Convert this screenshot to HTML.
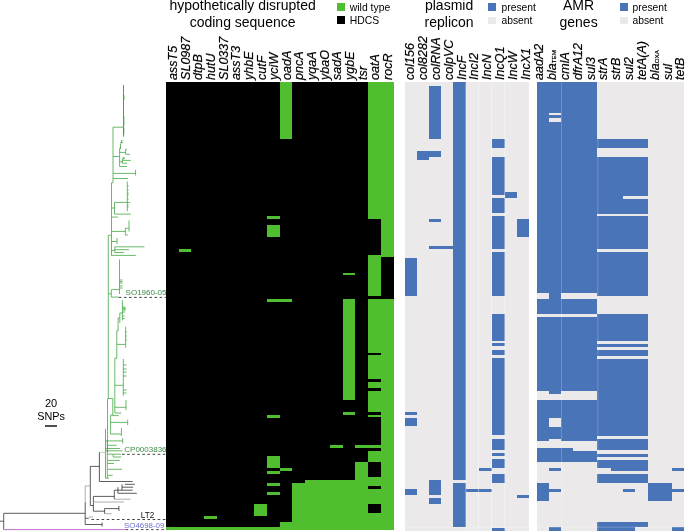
<!DOCTYPE html>
<html><head><meta charset="utf-8"><title>Figure</title>
<style>html,body{margin:0;padding:0;background:#fff;width:685px;height:531px;overflow:hidden}svg{display:block}</style>
</head><body>
<svg width="685" height="531" viewBox="0 0 685 531" font-family="'Liberation Sans', Arial, sans-serif"><line x1="123.5" y1="85" x2="123.5" y2="136.7" stroke="#44A844" stroke-width="1.0"/>
<line x1="123.5" y1="96" x2="124.8" y2="96" stroke="#44A844" stroke-width="0.8"/>
<line x1="123.5" y1="97.5" x2="124.8" y2="97.5" stroke="#44A844" stroke-width="0.8"/>
<line x1="123.5" y1="99" x2="124.8" y2="99" stroke="#44A844" stroke-width="0.8"/>
<line x1="123.5" y1="117" x2="124.8" y2="117" stroke="#44A844" stroke-width="0.8"/>
<line x1="123.5" y1="119" x2="124.8" y2="119" stroke="#44A844" stroke-width="0.8"/>
<line x1="123.5" y1="121" x2="124.8" y2="121" stroke="#44A844" stroke-width="0.8"/>
<line x1="123.5" y1="123" x2="124.8" y2="123" stroke="#44A844" stroke-width="0.8"/>
<line x1="123.5" y1="125" x2="124.8" y2="125" stroke="#44A844" stroke-width="0.8"/>
<line x1="123.5" y1="129" x2="124.8" y2="129" stroke="#44A844" stroke-width="0.8"/>
<line x1="123.5" y1="131" x2="124.8" y2="131" stroke="#44A844" stroke-width="0.8"/>
<line x1="123.5" y1="133" x2="124.8" y2="133" stroke="#44A844" stroke-width="0.8"/>
<line x1="113" y1="127.2" x2="123.5" y2="127.2" stroke="#44A844" stroke-width="0.8"/>
<line x1="113" y1="127.2" x2="113" y2="182.8" stroke="#44A844" stroke-width="0.8"/>
<line x1="113" y1="156.5" x2="119.6" y2="156.5" stroke="#44A844" stroke-width="0.8"/>
<line x1="119.6" y1="148.2" x2="119.6" y2="166.5" stroke="#44A844" stroke-width="0.8"/>
<line x1="120.5" y1="143.5" x2="120.5" y2="149.1" stroke="#44A844" stroke-width="0.8"/>
<line x1="119.6" y1="148.2" x2="120.5" y2="148.2" stroke="#44A844" stroke-width="0.8"/>
<line x1="121.6" y1="140.2" x2="121.6" y2="143.5" stroke="#44A844" stroke-width="0.8"/>
<line x1="120.5" y1="142.5" x2="122.9" y2="142.5" stroke="#44A844" stroke-width="0.8"/>
<line x1="121.6" y1="140.5" x2="122.6" y2="140.5" stroke="#44A844" stroke-width="0.8"/>
<line x1="119.6" y1="152.4" x2="125.7" y2="152.4" stroke="#44A844" stroke-width="0.8"/>
<line x1="125.7" y1="149.1" x2="125.7" y2="154.3" stroke="#44A844" stroke-width="0.8"/>
<line x1="125.7" y1="154.3" x2="130" y2="154.3" stroke="#44A844" stroke-width="0.8"/>
<line x1="125.7" y1="149.3" x2="126.8" y2="149.3" stroke="#44A844" stroke-width="0.8"/>
<line x1="119.6" y1="161.8" x2="122.4" y2="161.8" stroke="#44A844" stroke-width="0.8"/>
<line x1="122.4" y1="159" x2="122.4" y2="163.2" stroke="#44A844" stroke-width="0.8"/>
<line x1="122.4" y1="160.4" x2="130.9" y2="160.4" stroke="#44A844" stroke-width="0.8"/>
<line x1="122.4" y1="163.2" x2="127.1" y2="163.2" stroke="#44A844" stroke-width="0.8"/>
<line x1="122.4" y1="158.2" x2="125" y2="158.2" stroke="#44A844" stroke-width="0.8"/>
<line x1="123.6" y1="157.1" x2="123.6" y2="159.5" stroke="#44A844" stroke-width="0.8"/>
<line x1="119.6" y1="166.5" x2="127.1" y2="166.5" stroke="#44A844" stroke-width="0.8"/>
<line x1="113" y1="173.4" x2="135.6" y2="173.4" stroke="#44A844" stroke-width="0.8"/>
<line x1="135.6" y1="169.8" x2="135.6" y2="175.5" stroke="#44A844" stroke-width="0.8"/>
<line x1="113" y1="178.5" x2="128" y2="178.5" stroke="#44A844" stroke-width="0.8"/>
<line x1="111.5" y1="182.8" x2="111.5" y2="255.4" stroke="#44A844" stroke-width="0.8"/>
<line x1="111.5" y1="182.8" x2="113" y2="182.8" stroke="#44A844" stroke-width="0.8"/>
<line x1="127.3" y1="181.5" x2="127.3" y2="211.2" stroke="#44A844" stroke-width="0.8"/>
<line x1="127.3" y1="186" x2="128.6" y2="186" stroke="#44A844" stroke-width="0.8"/>
<line x1="127.3" y1="190" x2="128.6" y2="190" stroke="#44A844" stroke-width="0.8"/>
<line x1="127.3" y1="193" x2="128.6" y2="193" stroke="#44A844" stroke-width="0.8"/>
<line x1="127.3" y1="195" x2="128.6" y2="195" stroke="#44A844" stroke-width="0.8"/>
<line x1="127.3" y1="199" x2="128.6" y2="199" stroke="#44A844" stroke-width="0.8"/>
<line x1="127.3" y1="205" x2="128.6" y2="205" stroke="#44A844" stroke-width="0.8"/>
<line x1="127.3" y1="207" x2="128.6" y2="207" stroke="#44A844" stroke-width="0.8"/>
<line x1="114.5" y1="202.4" x2="130" y2="202.4" stroke="#44A844" stroke-width="0.8"/>
<line x1="114.5" y1="202.4" x2="114.5" y2="214.1" stroke="#44A844" stroke-width="0.8"/>
<line x1="114.5" y1="214.1" x2="130.9" y2="214.1" stroke="#44A844" stroke-width="0.8"/>
<line x1="111.5" y1="208" x2="114.5" y2="208" stroke="#44A844" stroke-width="0.8"/>
<line x1="111.3" y1="217.1" x2="118" y2="217.1" stroke="#44A844" stroke-width="0.8"/>
<line x1="111.3" y1="231.4" x2="125.3" y2="231.4" stroke="#44A844" stroke-width="0.8"/>
<line x1="125.3" y1="228.3" x2="125.3" y2="235" stroke="#44A844" stroke-width="0.8"/>
<line x1="129" y1="220.4" x2="129" y2="231.6" stroke="#44A844" stroke-width="0.8"/>
<line x1="125.3" y1="228.3" x2="129" y2="228.3" stroke="#44A844" stroke-width="0.8"/>
<line x1="125.3" y1="235" x2="128" y2="235" stroke="#44A844" stroke-width="0.8"/>
<line x1="111.3" y1="241.5" x2="116.8" y2="241.5" stroke="#44A844" stroke-width="0.8"/>
<line x1="117" y1="238" x2="117" y2="244" stroke="#44A844" stroke-width="0.8"/>
<line x1="111.3" y1="250.5" x2="114.8" y2="250.5" stroke="#44A844" stroke-width="0.8"/>
<line x1="114.8" y1="246.8" x2="114.8" y2="252.5" stroke="#44A844" stroke-width="0.8"/>
<line x1="114.8" y1="246.8" x2="144.4" y2="246.8" stroke="#44A844" stroke-width="0.8"/>
<line x1="114.8" y1="249.7" x2="129" y2="249.7" stroke="#44A844" stroke-width="0.8"/>
<line x1="114.8" y1="252.5" x2="124" y2="252.5" stroke="#44A844" stroke-width="0.8"/>
<line x1="111.3" y1="255.4" x2="135.9" y2="255.4" stroke="#44A844" stroke-width="0.8"/>
<line x1="108.3" y1="235.3" x2="108.3" y2="399" stroke="#44A844" stroke-width="0.8"/>
<line x1="108.3" y1="235.3" x2="111.3" y2="235.3" stroke="#44A844" stroke-width="0.8"/>
<line x1="119.5" y1="259.5" x2="119.5" y2="294" stroke="#44A844" stroke-width="0.8"/>
<line x1="111.3" y1="289.6" x2="119.5" y2="289.6" stroke="#44A844" stroke-width="0.8"/>
<line x1="119.5" y1="280" x2="122.5" y2="280" stroke="#44A844" stroke-width="0.8"/>
<line x1="119.5" y1="281.5" x2="122.5" y2="281.5" stroke="#44A844" stroke-width="0.8"/>
<line x1="119.5" y1="283" x2="122.5" y2="283" stroke="#44A844" stroke-width="0.8"/>
<line x1="119.5" y1="286" x2="122.5" y2="286" stroke="#44A844" stroke-width="0.8"/>
<line x1="119.5" y1="288" x2="122.5" y2="288" stroke="#44A844" stroke-width="0.8"/>
<line x1="111.3" y1="289.6" x2="111.3" y2="297.1" stroke="#44A844" stroke-width="0.8"/>
<line x1="108.3" y1="293.8" x2="111.3" y2="293.8" stroke="#44A844" stroke-width="0.8"/>
<line x1="111.3" y1="297.1" x2="118.8" y2="297.1" stroke="#44A844" stroke-width="0.8"/>
<line x1="122.4" y1="300.2" x2="122.4" y2="320.4" stroke="#44A844" stroke-width="0.8"/>
<line x1="122.4" y1="307" x2="125" y2="307" stroke="#44A844" stroke-width="0.8"/>
<line x1="122.4" y1="308.5" x2="125" y2="308.5" stroke="#44A844" stroke-width="0.8"/>
<line x1="122.4" y1="310" x2="125" y2="310" stroke="#44A844" stroke-width="0.8"/>
<line x1="122.4" y1="312" x2="125" y2="312" stroke="#44A844" stroke-width="0.8"/>
<line x1="125" y1="307" x2="125" y2="311" stroke="#44A844" stroke-width="0.8"/>
<line x1="119.8" y1="313" x2="119.8" y2="323" stroke="#44A844" stroke-width="0.8"/>
<line x1="119.8" y1="313" x2="122.4" y2="313" stroke="#44A844" stroke-width="0.8"/>
<line x1="122.4" y1="316" x2="124.5" y2="316" stroke="#44A844" stroke-width="0.8"/>
<line x1="122.4" y1="318.5" x2="124.5" y2="318.5" stroke="#44A844" stroke-width="0.8"/>
<line x1="118.1" y1="318" x2="118.1" y2="331" stroke="#44A844" stroke-width="0.8"/>
<line x1="118.1" y1="318" x2="119.8" y2="318" stroke="#44A844" stroke-width="0.8"/>
<line x1="116.8" y1="330.8" x2="116.8" y2="358.2" stroke="#44A844" stroke-width="0.8"/>
<line x1="116.8" y1="330.8" x2="118.1" y2="330.8" stroke="#44A844" stroke-width="0.8"/>
<line x1="117" y1="344.4" x2="125.6" y2="344.4" stroke="#44A844" stroke-width="0.8"/>
<line x1="125.6" y1="326.6" x2="125.6" y2="347.7" stroke="#44A844" stroke-width="0.8"/>
<line x1="125.6" y1="332" x2="127" y2="332" stroke="#44A844" stroke-width="0.8"/>
<line x1="125.6" y1="336" x2="127" y2="336" stroke="#44A844" stroke-width="0.8"/>
<line x1="125.6" y1="340" x2="127" y2="340" stroke="#44A844" stroke-width="0.8"/>
<line x1="114.8" y1="358.2" x2="114.8" y2="413" stroke="#44A844" stroke-width="0.8"/>
<line x1="114.8" y1="358.2" x2="117" y2="358.2" stroke="#44A844" stroke-width="0.8"/>
<line x1="114.8" y1="385.3" x2="123.3" y2="385.3" stroke="#44A844" stroke-width="0.8"/>
<line x1="123.3" y1="358.9" x2="123.3" y2="395.8" stroke="#44A844" stroke-width="0.8"/>
<line x1="123.3" y1="365" x2="126.6" y2="365" stroke="#44A844" stroke-width="0.8"/>
<line x1="123.3" y1="369" x2="126.6" y2="369" stroke="#44A844" stroke-width="0.8"/>
<line x1="123.3" y1="372" x2="126.6" y2="372" stroke="#44A844" stroke-width="0.8"/>
<line x1="123.3" y1="376" x2="126.6" y2="376" stroke="#44A844" stroke-width="0.8"/>
<line x1="123.3" y1="390" x2="126.6" y2="390" stroke="#44A844" stroke-width="0.8"/>
<line x1="123.3" y1="393" x2="126.6" y2="393" stroke="#44A844" stroke-width="0.8"/>
<line x1="112.8" y1="398.5" x2="112.8" y2="415.6" stroke="#44A844" stroke-width="0.8"/>
<line x1="108.3" y1="398.5" x2="112.8" y2="398.5" stroke="#44A844" stroke-width="0.8"/>
<line x1="114.8" y1="407.3" x2="126" y2="407.3" stroke="#44A844" stroke-width="0.8"/>
<line x1="126" y1="400" x2="126" y2="410" stroke="#44A844" stroke-width="0.8"/>
<line x1="114.8" y1="413" x2="121.4" y2="413" stroke="#44A844" stroke-width="0.8"/>
<line x1="112.8" y1="415.6" x2="118.7" y2="415.6" stroke="#44A844" stroke-width="0.8"/>
<line x1="110.6" y1="415" x2="110.6" y2="434" stroke="#44A844" stroke-width="0.8"/>
<line x1="110.6" y1="415" x2="112.8" y2="415" stroke="#44A844" stroke-width="0.8"/>
<line x1="110.6" y1="422.4" x2="127.7" y2="422.4" stroke="#44A844" stroke-width="0.8"/>
<line x1="127.7" y1="419.5" x2="127.7" y2="425" stroke="#44A844" stroke-width="0.8"/>
<line x1="110.6" y1="434" x2="121.4" y2="434" stroke="#44A844" stroke-width="0.8"/>
<line x1="121.4" y1="428" x2="121.4" y2="436" stroke="#44A844" stroke-width="0.8"/>
<line x1="107.5" y1="399" x2="107.5" y2="452.3" stroke="#44A844" stroke-width="0.8"/>
<line x1="107.5" y1="399" x2="108.3" y2="399" stroke="#44A844" stroke-width="0.8"/>
<line x1="105.5" y1="428.8" x2="105.5" y2="478.2" stroke="#44A844" stroke-width="0.8"/>
<line x1="105.5" y1="440.9" x2="122.7" y2="440.9" stroke="#44A844" stroke-width="0.8"/>
<line x1="122.7" y1="438" x2="122.7" y2="443.5" stroke="#44A844" stroke-width="0.8"/>
<line x1="107" y1="445.3" x2="116.8" y2="445.3" stroke="#44A844" stroke-width="0.8"/>
<line x1="105.5" y1="448.5" x2="120" y2="448.5" stroke="#44A844" stroke-width="0.8"/>
<line x1="105.5" y1="450.8" x2="122.5" y2="450.8" stroke="#44A844" stroke-width="0.8"/>
<line x1="107.3" y1="454.2" x2="113.2" y2="454.2" stroke="#44A844" stroke-width="0.8"/>
<line x1="113.2" y1="454.2" x2="113.2" y2="457" stroke="#44A844" stroke-width="0.8"/>
<line x1="113.2" y1="454.2" x2="121.1" y2="454.2" stroke="#44A844" stroke-width="0.8"/>
<line x1="113.2" y1="457" x2="121.1" y2="457" stroke="#44A844" stroke-width="0.8"/>
<line x1="107.3" y1="460.4" x2="119.8" y2="460.4" stroke="#44A844" stroke-width="0.8"/>
<line x1="107.3" y1="463.5" x2="113.9" y2="463.5" stroke="#44A844" stroke-width="0.8"/>
<line x1="107.3" y1="469.3" x2="122" y2="469.3" stroke="#44A844" stroke-width="0.8"/>
<line x1="107.3" y1="475.3" x2="112.6" y2="475.3" stroke="#44A844" stroke-width="0.8"/>
<line x1="105.5" y1="478.2" x2="109" y2="478.2" stroke="#44A844" stroke-width="0.8"/>
<line x1="107.3" y1="440" x2="107.3" y2="478" stroke="#44A844" stroke-width="0.8"/>
<line x1="99.4" y1="452.3" x2="105.5" y2="452.3" stroke="#9ED09E" stroke-width="0.8"/>
<line x1="99.4" y1="452.3" x2="99.4" y2="481.5" stroke="#333333" stroke-width="0.8"/>
<line x1="99.4" y1="481.5" x2="132.6" y2="481.5" stroke="#333333" stroke-width="0.8"/>
<line x1="90.3" y1="466.4" x2="99.4" y2="466.4" stroke="#333333" stroke-width="0.8"/>
<line x1="90.3" y1="466.4" x2="90.3" y2="505.5" stroke="#333333" stroke-width="0.8"/>
<line x1="85.2" y1="485.9" x2="90.3" y2="485.9" stroke="#999999" stroke-width="0.8"/>
<line x1="85.2" y1="485.9" x2="85.2" y2="502" stroke="#999999" stroke-width="0.8"/>
<line x1="85.2" y1="502" x2="85.2" y2="524.5" stroke="#333333" stroke-width="0.8"/>
<line x1="90.3" y1="505.5" x2="93.4" y2="505.5" stroke="#333333" stroke-width="0.8"/>
<line x1="93.4" y1="496.4" x2="93.4" y2="511.2" stroke="#333333" stroke-width="0.8"/>
<line x1="93.4" y1="496.4" x2="114.3" y2="496.4" stroke="#333333" stroke-width="0.8"/>
<line x1="114.3" y1="490.2" x2="114.3" y2="499.2" stroke="#333333" stroke-width="0.8"/>
<line x1="114.3" y1="490.2" x2="117.9" y2="490.2" stroke="#333333" stroke-width="0.8"/>
<line x1="117.9" y1="487.2" x2="117.9" y2="493.3" stroke="#333333" stroke-width="0.8"/>
<line x1="125" y1="484.3" x2="134.8" y2="484.3" stroke="#333333" stroke-width="0.8"/>
<line x1="122" y1="487.2" x2="133.2" y2="487.2" stroke="#333333" stroke-width="0.8"/>
<line x1="122" y1="484.3" x2="122" y2="490.2" stroke="#333333" stroke-width="0.8"/>
<line x1="117.9" y1="490.2" x2="132.7" y2="490.2" stroke="#333333" stroke-width="0.8"/>
<line x1="117.9" y1="493.3" x2="136.8" y2="493.3" stroke="#333333" stroke-width="0.8"/>
<line x1="114.3" y1="499.2" x2="130.7" y2="499.2" stroke="#999999" stroke-width="0.8"/>
<line x1="93.4" y1="502" x2="124" y2="502" stroke="#999999" stroke-width="0.8"/>
<line x1="93.4" y1="511.2" x2="104.6" y2="511.2" stroke="#333333" stroke-width="0.8"/>
<line x1="104.6" y1="508.6" x2="104.6" y2="513.7" stroke="#333333" stroke-width="0.8"/>
<line x1="104.6" y1="508.6" x2="118.9" y2="508.6" stroke="#333333" stroke-width="0.8"/>
<line x1="118.9" y1="506" x2="118.9" y2="511" stroke="#333333" stroke-width="0.8"/>
<line x1="104.6" y1="513.7" x2="111.8" y2="513.7" stroke="#999999" stroke-width="0.8"/>
<line x1="85.2" y1="518.3" x2="88.8" y2="518.3" stroke="#333333" stroke-width="0.8"/>
<line x1="88.8" y1="517" x2="92.9" y2="517" stroke="#999999" stroke-width="0.8"/>
<line x1="85.2" y1="524.5" x2="102.1" y2="524.5" stroke="#333333" stroke-width="0.8"/>
<line x1="102.1" y1="522.5" x2="102.1" y2="526.5" stroke="#333333" stroke-width="0.8"/>
<line x1="3.7" y1="513.3" x2="85.2" y2="513.3" stroke="#333333" stroke-width="0.8"/>
<line x1="3.7" y1="513.3" x2="3.7" y2="529.6" stroke="#333333" stroke-width="0.8"/>
<line x1="0" y1="521.2" x2="3.7" y2="521.2" stroke="#333333" stroke-width="0.8"/>
<line x1="3.7" y1="529.6" x2="125.6" y2="529.6" stroke="#C070D0" stroke-width="1.0"/>
<line x1="118.8" y1="297.4" x2="166" y2="297.4" stroke="#444" stroke-width="1" stroke-dasharray="2.6,2.5"/>
<line x1="122" y1="454.3" x2="166" y2="454.3" stroke="#444" stroke-width="1" stroke-dasharray="2.6,2.5"/>
<line x1="91.4" y1="519.5" x2="166" y2="519.5" stroke="#444" stroke-width="1" stroke-dasharray="2.6,2.5"/>
<line x1="125.6" y1="529.6" x2="166" y2="529.6" stroke="#444" stroke-width="1" stroke-dasharray="2.6,2.5"/>
<text x="125.6" y="294.9" font-size="8" fill="#3D8B45" text-anchor="start" >SO1960-05</text>
<text x="124.3" y="451.9" font-size="8" fill="#3D8B45" text-anchor="start" >CP0003836</text>
<text x="140.8" y="517.5" font-size="8.2" fill="#111" text-anchor="start" >LT2</text>
<text x="124" y="527.7" font-size="7.9" fill="#6E6ECC" text-anchor="start" >SO4698-09</text>
<rect x="166.00" y="82.30" width="227.70" height="447.50" fill="#000000" shape-rendering="crispEdges"/>
<rect x="279.62" y="82.30" width="12.62" height="56.50" fill="#4FBF2F" shape-rendering="crispEdges"/>
<rect x="368.00" y="82.30" width="25.70" height="136.60" fill="#4FBF2F" shape-rendering="crispEdges"/>
<rect x="380.62" y="218.90" width="13.07" height="38.50" fill="#4FBF2F" shape-rendering="crispEdges"/>
<rect x="368.00" y="254.90" width="12.62" height="40.90" fill="#4FBF2F" shape-rendering="crispEdges"/>
<rect x="368.00" y="299.20" width="25.70" height="230.60" fill="#4FBF2F" shape-rendering="crispEdges"/>
<rect x="267.00" y="216.20" width="12.62" height="2.70" fill="#4FBF2F" shape-rendering="crispEdges"/>
<rect x="267.00" y="225.00" width="12.62" height="11.80" fill="#4FBF2F" shape-rendering="crispEdges"/>
<rect x="267.00" y="299.20" width="25.25" height="2.90" fill="#4FBF2F" shape-rendering="crispEdges"/>
<rect x="267.00" y="414.80" width="12.62" height="2.80" fill="#4FBF2F" shape-rendering="crispEdges"/>
<rect x="267.00" y="456.20" width="12.62" height="11.90" fill="#4FBF2F" shape-rendering="crispEdges"/>
<rect x="267.00" y="471.00" width="12.62" height="3.00" fill="#4FBF2F" shape-rendering="crispEdges"/>
<rect x="267.00" y="482.90" width="12.62" height="3.00" fill="#4FBF2F" shape-rendering="crispEdges"/>
<rect x="267.00" y="492.00" width="12.62" height="2.70" fill="#4FBF2F" shape-rendering="crispEdges"/>
<rect x="178.62" y="248.80" width="12.62" height="2.90" fill="#4FBF2F" shape-rendering="crispEdges"/>
<rect x="342.75" y="272.50" width="12.62" height="2.90" fill="#4FBF2F" shape-rendering="crispEdges"/>
<rect x="342.75" y="299.20" width="12.62" height="100.30" fill="#4FBF2F" shape-rendering="crispEdges"/>
<rect x="342.75" y="411.90" width="12.62" height="2.90" fill="#4FBF2F" shape-rendering="crispEdges"/>
<rect x="279.62" y="468.00" width="12.62" height="3.00" fill="#4FBF2F" shape-rendering="crispEdges"/>
<rect x="330.12" y="444.60" width="12.62" height="3.00" fill="#4FBF2F" shape-rendering="crispEdges"/>
<rect x="355.38" y="444.60" width="12.62" height="3.00" fill="#4FBF2F" shape-rendering="crispEdges"/>
<rect x="355.38" y="462.00" width="12.62" height="67.80" fill="#4FBF2F" shape-rendering="crispEdges"/>
<rect x="304.88" y="479.50" width="50.50" height="50.30" fill="#4FBF2F" shape-rendering="crispEdges"/>
<rect x="292.25" y="483.00" width="12.62" height="46.80" fill="#4FBF2F" shape-rendering="crispEdges"/>
<rect x="279.62" y="521.60" width="12.62" height="8.20" fill="#4FBF2F" shape-rendering="crispEdges"/>
<rect x="254.38" y="503.80" width="12.62" height="12.10" fill="#4FBF2F" shape-rendering="crispEdges"/>
<rect x="203.88" y="515.90" width="12.62" height="2.80" fill="#4FBF2F" shape-rendering="crispEdges"/>
<rect x="166.00" y="527.30" width="227.70" height="2.50" fill="#4FBF2F" shape-rendering="crispEdges"/>
<rect x="368.00" y="352.70" width="12.62" height="2.70" fill="#000000" shape-rendering="crispEdges"/>
<rect x="368.00" y="379.00" width="12.62" height="2.80" fill="#000000" shape-rendering="crispEdges"/>
<rect x="368.00" y="388.20" width="12.62" height="2.70" fill="#000000" shape-rendering="crispEdges"/>
<rect x="368.00" y="411.90" width="12.62" height="2.80" fill="#000000" shape-rendering="crispEdges"/>
<rect x="368.00" y="417.40" width="12.62" height="27.20" fill="#000000" shape-rendering="crispEdges"/>
<rect x="368.00" y="447.60" width="12.62" height="2.90" fill="#000000" shape-rendering="crispEdges"/>
<rect x="368.00" y="462.40" width="12.62" height="14.60" fill="#000000" shape-rendering="crispEdges"/>
<rect x="368.00" y="486.10" width="12.62" height="2.80" fill="#000000" shape-rendering="crispEdges"/>
<rect x="368.00" y="504.10" width="12.62" height="8.80" fill="#000000" shape-rendering="crispEdges"/>
<rect x="405.10" y="82.30" width="124.30" height="448.30" fill="#EBE9EA" shape-rendering="crispEdges"/>
<rect x="416.90" y="150.90" width="12.00" height="8.70" fill="#4A74B8" shape-rendering="crispEdges"/>
<rect x="428.90" y="85.80" width="12.10" height="53.00" fill="#4A74B8" shape-rendering="crispEdges"/>
<rect x="428.90" y="150.90" width="12.10" height="5.90" fill="#4A74B8" shape-rendering="crispEdges"/>
<rect x="428.90" y="219.00" width="12.10" height="2.60" fill="#4A74B8" shape-rendering="crispEdges"/>
<rect x="428.90" y="479.80" width="12.10" height="14.80" fill="#4A74B8" shape-rendering="crispEdges"/>
<rect x="428.90" y="497.70" width="12.10" height="6.00" fill="#4A74B8" shape-rendering="crispEdges"/>
<rect x="428.90" y="245.80" width="24.00" height="2.80" fill="#4A74B8" shape-rendering="crispEdges"/>
<rect x="405.10" y="257.60" width="11.80" height="38.20" fill="#4A74B8" shape-rendering="crispEdges"/>
<rect x="405.10" y="411.70" width="11.80" height="3.00" fill="#4A74B8" shape-rendering="crispEdges"/>
<rect x="405.10" y="417.60" width="11.80" height="8.70" fill="#4A74B8" shape-rendering="crispEdges"/>
<rect x="405.10" y="488.80" width="11.80" height="5.80" fill="#4A74B8" shape-rendering="crispEdges"/>
<rect x="452.90" y="82.30" width="12.70" height="397.50" fill="#4A74B8" shape-rendering="crispEdges"/>
<rect x="452.90" y="482.90" width="12.70" height="44.40" fill="#4A74B8" shape-rendering="crispEdges"/>
<rect x="465.60" y="488.80" width="13.00" height="2.80" fill="#4A74B8" shape-rendering="crispEdges"/>
<rect x="478.60" y="468.00" width="12.90" height="2.80" fill="#4A74B8" shape-rendering="crispEdges"/>
<rect x="478.60" y="488.80" width="12.90" height="2.80" fill="#4A74B8" shape-rendering="crispEdges"/>
<rect x="491.50" y="139.00" width="13.20" height="8.60" fill="#4A74B8" shape-rendering="crispEdges"/>
<rect x="491.50" y="156.70" width="13.20" height="38.10" fill="#4A74B8" shape-rendering="crispEdges"/>
<rect x="491.50" y="198.10" width="13.20" height="14.60" fill="#4A74B8" shape-rendering="crispEdges"/>
<rect x="491.50" y="216.10" width="13.20" height="32.50" fill="#4A74B8" shape-rendering="crispEdges"/>
<rect x="491.50" y="251.70" width="13.20" height="44.10" fill="#4A74B8" shape-rendering="crispEdges"/>
<rect x="491.50" y="313.90" width="13.20" height="26.60" fill="#4A74B8" shape-rendering="crispEdges"/>
<rect x="491.50" y="343.20" width="13.20" height="3.00" fill="#4A74B8" shape-rendering="crispEdges"/>
<rect x="491.50" y="349.60" width="13.20" height="5.40" fill="#4A74B8" shape-rendering="crispEdges"/>
<rect x="491.50" y="358.20" width="13.20" height="77.20" fill="#4A74B8" shape-rendering="crispEdges"/>
<rect x="491.50" y="438.50" width="13.20" height="11.60" fill="#4A74B8" shape-rendering="crispEdges"/>
<rect x="491.50" y="452.90" width="13.20" height="2.90" fill="#4A74B8" shape-rendering="crispEdges"/>
<rect x="491.50" y="459.00" width="13.20" height="9.00" fill="#4A74B8" shape-rendering="crispEdges"/>
<rect x="491.50" y="474.10" width="13.20" height="8.80" fill="#4A74B8" shape-rendering="crispEdges"/>
<rect x="491.50" y="527.60" width="13.20" height="3.00" fill="#4A74B8" shape-rendering="crispEdges"/>
<rect x="504.70" y="192.00" width="12.40" height="5.90" fill="#4A74B8" shape-rendering="crispEdges"/>
<rect x="517.10" y="219.00" width="12.30" height="17.50" fill="#4A74B8" shape-rendering="crispEdges"/>
<rect x="517.10" y="494.80" width="12.30" height="2.80" fill="#4A74B8" shape-rendering="crispEdges"/>
<rect x="537.20" y="82.30" width="146.70" height="448.30" fill="#EBE9EA" shape-rendering="crispEdges"/>
<rect x="537.20" y="82.30" width="12.00" height="211.00" fill="#4A74B8" shape-rendering="crispEdges"/>
<rect x="537.20" y="299.10" width="12.00" height="14.90" fill="#4A74B8" shape-rendering="crispEdges"/>
<rect x="537.20" y="317.00" width="12.00" height="73.90" fill="#4A74B8" shape-rendering="crispEdges"/>
<rect x="537.20" y="400.20" width="12.00" height="41.20" fill="#4A74B8" shape-rendering="crispEdges"/>
<rect x="561.40" y="82.30" width="36.00" height="211.00" fill="#4A74B8" shape-rendering="crispEdges"/>
<rect x="561.40" y="299.10" width="36.00" height="14.90" fill="#4A74B8" shape-rendering="crispEdges"/>
<rect x="561.40" y="317.00" width="36.00" height="73.90" fill="#4A74B8" shape-rendering="crispEdges"/>
<rect x="561.40" y="400.20" width="36.00" height="41.20" fill="#4A74B8" shape-rendering="crispEdges"/>
<rect x="537.20" y="447.90" width="36.20" height="14.40" fill="#4A74B8" shape-rendering="crispEdges"/>
<rect x="573.40" y="450.60" width="24.00" height="11.70" fill="#4A74B8" shape-rendering="crispEdges"/>
<rect x="549.20" y="82.30" width="12.20" height="30.30" fill="#4A74B8" shape-rendering="crispEdges"/>
<rect x="549.20" y="115.30" width="12.20" height="2.90" fill="#4A74B8" shape-rendering="crispEdges"/>
<rect x="549.20" y="121.60" width="12.20" height="192.40" fill="#4A74B8" shape-rendering="crispEdges"/>
<rect x="549.20" y="317.00" width="12.20" height="76.80" fill="#4A74B8" shape-rendering="crispEdges"/>
<rect x="549.20" y="400.20" width="12.20" height="17.90" fill="#4A74B8" shape-rendering="crispEdges"/>
<rect x="549.20" y="427.00" width="12.20" height="11.60" fill="#4A74B8" shape-rendering="crispEdges"/>
<rect x="549.20" y="468.30" width="12.20" height="2.90" fill="#4A74B8" shape-rendering="crispEdges"/>
<rect x="549.20" y="488.80" width="12.20" height="3.00" fill="#4A74B8" shape-rendering="crispEdges"/>
<rect x="549.20" y="527.30" width="12.20" height="3.30" fill="#4A74B8" shape-rendering="crispEdges"/>
<rect x="537.20" y="483.00" width="12.00" height="17.90" fill="#4A74B8" shape-rendering="crispEdges"/>
<rect x="597.40" y="139.00" width="50.10" height="8.70" fill="#4A74B8" shape-rendering="crispEdges"/>
<rect x="597.40" y="156.80" width="25.50" height="56.70" fill="#4A74B8" shape-rendering="crispEdges"/>
<rect x="622.90" y="156.80" width="24.60" height="38.80" fill="#4A74B8" shape-rendering="crispEdges"/>
<rect x="622.90" y="198.50" width="24.60" height="15.00" fill="#4A74B8" shape-rendering="crispEdges"/>
<rect x="597.40" y="216.20" width="50.10" height="33.00" fill="#4A74B8" shape-rendering="crispEdges"/>
<rect x="597.40" y="252.10" width="50.10" height="44.10" fill="#4A74B8" shape-rendering="crispEdges"/>
<rect x="597.40" y="314.00" width="50.10" height="26.80" fill="#4A74B8" shape-rendering="crispEdges"/>
<rect x="597.40" y="343.70" width="50.10" height="3.20" fill="#4A74B8" shape-rendering="crispEdges"/>
<rect x="597.40" y="349.80" width="50.10" height="5.80" fill="#4A74B8" shape-rendering="crispEdges"/>
<rect x="597.40" y="358.70" width="50.10" height="77.10" fill="#4A74B8" shape-rendering="crispEdges"/>
<rect x="597.40" y="438.70" width="50.10" height="11.60" fill="#4A74B8" shape-rendering="crispEdges"/>
<rect x="597.40" y="453.70" width="50.10" height="2.90" fill="#4A74B8" shape-rendering="crispEdges"/>
<rect x="597.40" y="459.70" width="50.10" height="8.50" fill="#4A74B8" shape-rendering="crispEdges"/>
<rect x="610.60" y="468.20" width="36.90" height="3.00" fill="#4A74B8" shape-rendering="crispEdges"/>
<rect x="597.40" y="474.10" width="50.10" height="8.80" fill="#4A74B8" shape-rendering="crispEdges"/>
<rect x="597.40" y="521.90" width="50.10" height="5.10" fill="#4A74B8" shape-rendering="crispEdges"/>
<rect x="597.40" y="527.30" width="37.50" height="3.30" fill="#4A74B8" shape-rendering="crispEdges"/>
<rect x="622.90" y="488.80" width="12.00" height="3.00" fill="#4A74B8" shape-rendering="crispEdges"/>
<rect x="647.50" y="483.00" width="24.50" height="17.90" fill="#4A74B8" shape-rendering="crispEdges"/>
<rect x="672.00" y="468.30" width="11.90" height="2.90" fill="#4A74B8" shape-rendering="crispEdges"/>
<rect x="672.00" y="488.80" width="11.90" height="3.00" fill="#4A74B8" shape-rendering="crispEdges"/>
<rect x="672.00" y="527.30" width="11.90" height="3.30" fill="#4A74B8" shape-rendering="crispEdges"/>
<line x1="465.8" y1="82.3" x2="465.8" y2="530.6" stroke="#fff" stroke-opacity="0.6" stroke-width="0.7"/>
<line x1="478.5" y1="82.3" x2="478.5" y2="530.6" stroke="#fff" stroke-opacity="0.6" stroke-width="0.7"/>
<line x1="491.5" y1="82.3" x2="491.5" y2="530.6" stroke="#fff" stroke-opacity="0.6" stroke-width="0.7"/>
<line x1="504.6" y1="82.3" x2="504.6" y2="530.6" stroke="#fff" stroke-opacity="0.6" stroke-width="0.7"/>
<line x1="561.5" y1="82.3" x2="561.5" y2="530.6" stroke="#fff" stroke-opacity="0.35" stroke-width="0.6"/>
<line x1="597.9" y1="82.3" x2="597.9" y2="530.6" stroke="#fff" stroke-opacity="0.35" stroke-width="0.6"/>
<line x1="405.1" y1="527.4" x2="529.4" y2="527.4" stroke="#fff" stroke-opacity="0.4" stroke-width="0.6"/>
<line x1="537.2" y1="527.2" x2="683.9" y2="527.2" stroke="#fff" stroke-opacity="0.4" stroke-width="0.6"/>
<rect x="337.00" y="2.90" width="8.00" height="8.00" fill="#4FBF2F" shape-rendering="crispEdges"/>
<rect x="337.00" y="15.80" width="8.00" height="8.00" fill="#000000" shape-rendering="crispEdges"/>
<rect x="488.10" y="3.20" width="8.00" height="7.80" fill="#4A74B8" shape-rendering="crispEdges"/>
<rect x="488.10" y="16.50" width="8.00" height="7.40" fill="#EBE9EA" shape-rendering="crispEdges"/>
<rect x="619.80" y="3.20" width="7.80" height="7.80" fill="#4A74B8" shape-rendering="crispEdges"/>
<rect x="619.80" y="16.50" width="7.80" height="7.40" fill="#EBE9EA" shape-rendering="crispEdges"/>
<text x="242.6" y="10.2" font-size="14" fill="#000" text-anchor="middle" >hypothetically disrupted</text>
<text x="242.6" y="27.3" font-size="14" fill="#000" text-anchor="middle" >coding sequence</text>
<text x="449.1" y="10.4" font-size="14" fill="#000" text-anchor="middle" >plasmid</text>
<text x="449.1" y="27.3" font-size="14" fill="#000" text-anchor="middle" >replicon</text>
<text x="578.6" y="10.2" font-size="14" fill="#000" text-anchor="middle" >AMR</text>
<text x="578.6" y="27.3" font-size="14" fill="#000" text-anchor="middle" >genes</text>
<text x="349.8" y="10.8" font-size="10.4" fill="#000" text-anchor="start" >wild type</text>
<text x="349.8" y="23.9" font-size="10.4" fill="#000" text-anchor="start" >HDCS</text>
<text x="501.5" y="10.8" font-size="10.3" fill="#000" text-anchor="start" >present</text>
<text x="501.5" y="23.7" font-size="10.3" fill="#000" text-anchor="start" >absent</text>
<text x="632.5" y="10.8" font-size="10.3" fill="#000" text-anchor="start" >present</text>
<text x="632.5" y="23.7" font-size="10.3" fill="#000" text-anchor="start" >absent</text>
<text x="51" y="406.9" font-size="11" fill="#000" text-anchor="middle" >20</text>
<text x="51" y="419.9" font-size="10.8" fill="#000" text-anchor="middle" >SNPs</text>
<line x1="45" y1="426" x2="57" y2="426" stroke="#222" stroke-width="1.6"/>
<text transform="translate(177.10,79.9) rotate(-90)" font-size="12.5" font-style="italic" stroke="#000" stroke-width="0.2">assT5</text>
<text transform="translate(189.73,79.9) rotate(-90)" font-size="12.5" font-style="italic" stroke="#000" stroke-width="0.2">SL0987</text>
<text transform="translate(202.36,79.9) rotate(-90)" font-size="12.5" font-style="italic" stroke="#000" stroke-width="0.2">dtpB</text>
<text transform="translate(214.99,79.9) rotate(-90)" font-size="12.5" font-style="italic" stroke="#000" stroke-width="0.2">hutU</text>
<text transform="translate(227.62,79.9) rotate(-90)" font-size="12.5" font-style="italic" stroke="#000" stroke-width="0.2">SL0337</text>
<text transform="translate(240.25,79.9) rotate(-90)" font-size="12.5" font-style="italic" stroke="#000" stroke-width="0.2">assT3</text>
<text transform="translate(252.88,79.9) rotate(-90)" font-size="12.5" font-style="italic" stroke="#000" stroke-width="0.2">yhbE</text>
<text transform="translate(265.51,79.9) rotate(-90)" font-size="12.5" font-style="italic" stroke="#000" stroke-width="0.2">cutF</text>
<text transform="translate(278.14,79.9) rotate(-90)" font-size="12.5" font-style="italic" stroke="#000" stroke-width="0.2">yciW</text>
<text transform="translate(290.77,79.9) rotate(-90)" font-size="12.5" font-style="italic" stroke="#000" stroke-width="0.2">oadA</text>
<text transform="translate(303.40,79.9) rotate(-90)" font-size="12.5" font-style="italic" stroke="#000" stroke-width="0.2">pncA</text>
<text transform="translate(316.03,79.9) rotate(-90)" font-size="12.5" font-style="italic" stroke="#000" stroke-width="0.2">yqaA</text>
<text transform="translate(328.66,79.9) rotate(-90)" font-size="12.5" font-style="italic" stroke="#000" stroke-width="0.2">ybaO</text>
<text transform="translate(341.29,79.9) rotate(-90)" font-size="12.5" font-style="italic" stroke="#000" stroke-width="0.2">sadA</text>
<text transform="translate(353.92,79.9) rotate(-90)" font-size="12.5" font-style="italic" stroke="#000" stroke-width="0.2">ygbE</text>
<text transform="translate(366.55,79.9) rotate(-90)" font-size="12.5" font-style="italic" stroke="#000" stroke-width="0.2">tsr</text>
<text transform="translate(379.18,79.9) rotate(-90)" font-size="12.5" font-style="italic" stroke="#000" stroke-width="0.2">oatA</text>
<text transform="translate(391.81,79.9) rotate(-90)" font-size="12.5" font-style="italic" stroke="#000" stroke-width="0.2">rocR</text>
<text transform="translate(413.70,79.9) rotate(-90)" font-size="12.5" font-style="italic" stroke="#000" stroke-width="0.2">col156</text>
<text transform="translate(426.65,79.9) rotate(-90)" font-size="12.5" font-style="italic" stroke="#000" stroke-width="0.2">col8282</text>
<text transform="translate(439.60,79.9) rotate(-90)" font-size="12.5" font-style="italic" stroke="#000" stroke-width="0.2">colRNA</text>
<text transform="translate(452.55,79.9) rotate(-90)" font-size="12.5" font-style="italic" stroke="#000" stroke-width="0.2">colpVC</text>
<text transform="translate(465.50,79.9) rotate(-90)" font-size="12.5" font-style="italic" stroke="#000" stroke-width="0.2">IncF</text>
<text transform="translate(478.45,79.9) rotate(-90)" font-size="12.5" font-style="italic" stroke="#000" stroke-width="0.2">IncI2</text>
<text transform="translate(491.40,79.9) rotate(-90)" font-size="12.5" font-style="italic" stroke="#000" stroke-width="0.2">IncN</text>
<text transform="translate(504.35,79.9) rotate(-90)" font-size="12.5" font-style="italic" stroke="#000" stroke-width="0.2">IncQ1</text>
<text transform="translate(517.30,79.9) rotate(-90)" font-size="12.5" font-style="italic" stroke="#000" stroke-width="0.2">IncW</text>
<text transform="translate(530.25,79.9) rotate(-90)" font-size="12.5" font-style="italic" stroke="#000" stroke-width="0.2">IncX1</text>
<text transform="translate(543.20,79.9) rotate(-90)" font-size="12.5" font-style="italic" stroke="#000" stroke-width="0.2">aadA2</text>
<text transform="translate(556.03,79.9) rotate(-90)" font-size="12.5" font-style="italic" stroke="#000" stroke-width="0.2">bla<tspan font-style="normal" font-size="6.2">TEM</tspan></text>
<text transform="translate(568.86,79.9) rotate(-90)" font-size="12.5" font-style="italic" stroke="#000" stroke-width="0.2">cmlA</text>
<text transform="translate(581.69,79.9) rotate(-90)" font-size="12.5" font-style="italic" stroke="#000" stroke-width="0.2">dfrA12</text>
<text transform="translate(594.52,79.9) rotate(-90)" font-size="12.5" font-style="italic" stroke="#000" stroke-width="0.2">sul3</text>
<text transform="translate(607.35,79.9) rotate(-90)" font-size="12.5" font-style="italic" stroke="#000" stroke-width="0.2">strA</text>
<text transform="translate(620.18,79.9) rotate(-90)" font-size="12.5" font-style="italic" stroke="#000" stroke-width="0.2">strB</text>
<text transform="translate(633.01,79.9) rotate(-90)" font-size="12.5" font-style="italic" stroke="#000" stroke-width="0.2">sul2</text>
<text transform="translate(645.84,79.9) rotate(-90)" font-size="12.5" font-style="italic" stroke="#000" stroke-width="0.2">tetA(A)</text>
<text transform="translate(658.67,79.9) rotate(-90)" font-size="12.5" font-style="italic" stroke="#000" stroke-width="0.2">bla<tspan font-style="normal" font-size="6.2">OXA</tspan></text>
<text transform="translate(671.50,79.9) rotate(-90)" font-size="12.5" font-style="italic" stroke="#000" stroke-width="0.2">sul</text>
<text transform="translate(684.33,79.9) rotate(-90)" font-size="12.5" font-style="italic" stroke="#000" stroke-width="0.2">tetB</text></svg>
</body></html>
